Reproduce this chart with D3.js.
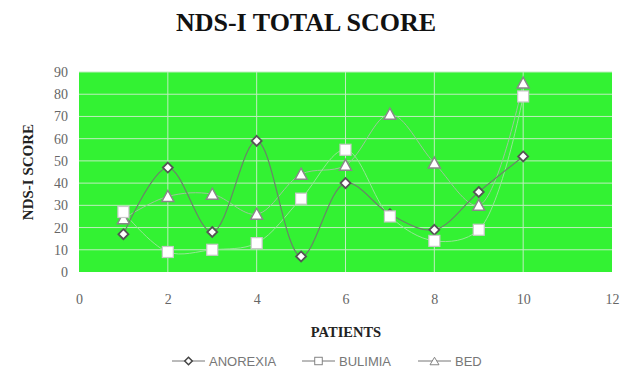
<!DOCTYPE html>
<html><head><meta charset="utf-8">
<script src="https://cdn.jsdelivr.net/npm/d3@7"></script>
<style>body{margin:0;background:#fff}svg{display:block}</style>
</head><body>
<svg id="c" width="629" height="371"></svg>
<script>
const patients = [1,2,3,4,5,6,7,8,9,10];
const anorexia = [17,47,18,59,7,40,26,19,36,52];
const bulimia  = [27,9,10,13,33,55,25,14,19,79];
const bed      = [24,34,35,26,44,48,71,49,30,85];
const xTicks = [0,2,4,6,8,10,12];
const yTicks = [0,10,20,30,40,50,60,70,80,90];
const seriesNames = ["ANOREXIA","BULIMIA","BED"];

const svg = d3.select("#c");
const m = {l:79, r:17, t:72, b:99};
const W = 629, H = 371;
const x = d3.scaleLinear().domain([0,12]).range([m.l, W-m.r]);
const y = d3.scaleLinear().domain([0,90]).range([H-m.b, m.t]);
const serif = "Liberation Serif, Times New Roman, serif";

svg.append("text").attr("x",306).attr("y",31).attr("text-anchor","middle")
  .attr("font-family",serif).attr("font-weight","bold")
  .attr("font-size",26).attr("fill","#111").text("NDS-I TOTAL SCORE");

// plot area
svg.append("rect").attr("x",x(0)).attr("y",y(90)).attr("width",x(12)-x(0)).attr("height",y(0)-y(90))
  .attr("fill","#33f233");

const g = svg.append("g");
g.selectAll(".hg").data(yTicks.filter(d=>d>0)).join("line")
  .attr("x1",x(0)).attr("x2",x(12)).attr("y1",d=>y(d)).attr("y2",d=>y(d))
  .attr("stroke","#bfeebf").attr("stroke-width",1);
g.selectAll(".vg").data(xTicks.filter(d=>d>0 && d<12)).join("line")
  .attr("y1",y(0)).attr("y2",y(90)).attr("x1",d=>x(d)).attr("x2",d=>x(d))
  .attr("stroke","#bfeebf").attr("stroke-width",1);

// axes
const yAxis = d3.axisLeft(y).tickValues(yTicks).tickSize(0).tickPadding(11);
const ya = svg.append("g").attr("transform",`translate(${x(0)},0)`).call(yAxis);
ya.select(".domain").remove();
ya.selectAll("text").attr("font-family",serif).attr("font-size",14).attr("fill","#666");

const xAxis = d3.axisBottom(x).tickValues(xTicks).tickSize(0).tickPadding(0);
const xa = svg.append("g").attr("transform",`translate(0,${H-m.b+22})`).call(xAxis);
xa.select(".domain").remove();
xa.selectAll("text").attr("font-family",serif).attr("font-size",14).attr("fill","#666");

svg.append("text").attr("transform","translate(33,172) rotate(-90)").attr("text-anchor","middle")
  .attr("font-family",serif).attr("font-weight","bold")
  .attr("font-size",15).attr("fill","#222").text("NDS-I SCORE");
svg.append("text").attr("x",346).attr("y",337).attr("text-anchor","middle")
  .attr("font-family",serif).attr("font-weight","bold")
  .attr("font-size",14.5).attr("fill","#222").text("PATIENTS");

const styles = [
  {data:anorexia, line:"#6a846a", lw:1.2, shape:"diamond"},
  {data:bulimia,  line:"#95e695", lw:1,   shape:"square"},
  {data:bed,      line:"#9cc79c", lw:1,   shape:"triangle"}
];
const line = d3.line().x((d,i)=>x(patients[i])).y(d=>y(d)).curve(d3.curveCatmullRom.alpha(0.5));

function marker(sel, shape){
  if(shape==="diamond"){
    sel.append("path").attr("d","M0,-5L5,0L0,5L-5,0Z").attr("fill","#fff").attr("stroke","#555").attr("stroke-width",1.8);
  } else if(shape==="square"){
    sel.append("rect").attr("x",-5.5).attr("y",-5.5).attr("width",11).attr("height",11).attr("fill","#fff").attr("stroke","#c8c8c8").attr("stroke-width",1.2);
  } else {
    sel.append("path").attr("d","M0,-6L6,5L-6,5Z").attr("fill","#fff").attr("stroke","#888").attr("stroke-width",1.5);
  }
}

[2,1,0].forEach(k=>{
  const s = styles[k];
  svg.append("path").datum(s.data).attr("d",line).attr("fill","none").attr("stroke",s.line).attr("stroke-width",s.lw);
});
[0,2,1].forEach(k=>{
  const s = styles[k];
  s.data.forEach((v,i)=>{
    const mg = svg.append("g").attr("transform",`translate(${x(patients[i])},${y(v)})`);
    marker(mg, s.shape);
  });
});

// legend
const legX = [172, 302, 418];
const lg = svg.append("g");
seriesNames.forEach((name,k)=>{
  const x0 = legX[k], yy = 361;
  lg.append("line").attr("x1",x0).attr("x2",x0+33).attr("y1",yy).attr("y2",yy).attr("stroke","#777").attr("stroke-width",1);
  const mg = lg.append("g").attr("transform",`translate(${x0+16.5},${yy}) scale(0.75)`);
  if(k===0) mg.append("path").attr("d","M0,-5L5,0L0,5L-5,0Z").attr("fill","#fff").attr("stroke","#444").attr("stroke-width",2);
  else if(k===1) mg.append("rect").attr("x",-5).attr("y",-5).attr("width",10).attr("height",10).attr("fill","#fff").attr("stroke","#777").attr("stroke-width",1.2);
  else mg.append("path").attr("d","M0,-5L6,5L-6,5Z").attr("fill","#fff").attr("stroke","#777").attr("stroke-width",1.2);
  lg.append("text").attr("x",x0+37).attr("y",yy+4.5).attr("font-family","Liberation Sans, Arial, sans-serif")
    .attr("font-size",13).attr("fill","#777").text(name);
});
</script>
</body></html>
